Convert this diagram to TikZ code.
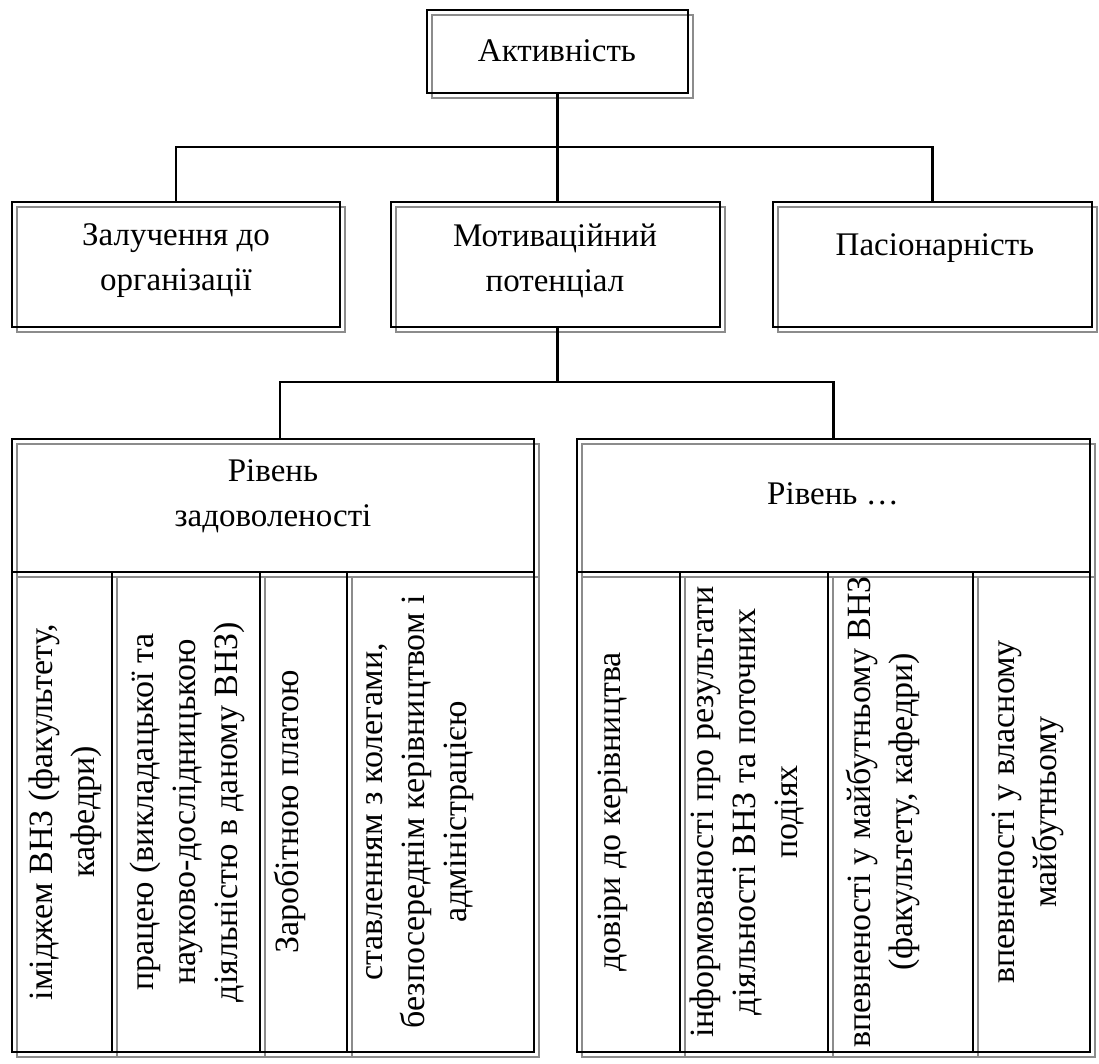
\documentclass[tikz,border=0pt]{standalone}
\usepackage{fontspec}
\setmainfont{Liberation Serif}
\usetikzlibrary{fit}
\tikzset{
  boxn/.style={draw=black, line width=1.3pt, inner sep=0pt, outer sep=0pt},
  shadeline/.style={draw=black!45, line width=0.6pt},
  conn/.style={draw=black, line width=1.1pt},
  txt/.style={font=\fontsize{16.5}{22.5}\selectfont, align=center, inner sep=0pt},
  vtxt/.style={font=\fontsize{17}{21}\selectfont, align=center, inner sep=0pt, rotate=90},
}
\newcommand\dbox[5]{%
  \draw[shadeline] (#2+5,#3+5) rectangle (#4+5,#5+5);
  \coordinate (#1-a) at (#2,#3);
  \coordinate (#1-b) at (#4,#5);
  \node[boxn, fit=(#1-a)(#1-b)] (#1) {};
}
\begin{document}
\begin{tikzpicture}[x=0.5pt,y=-0.5pt]
\useasboundingbox (0,0) rectangle (1099,1064);
% top
\dbox{act}{427}{10}{688}{93}
% row 2
\dbox{zal}{12}{202}{340}{327}
\dbox{mot}{391}{202}{720}{327}
\dbox{pas}{773}{202}{1092}{327}
% level blocks
\dbox{lv1}{12}{439}{534}{572}
\dbox{c1}{12}{572}{112}{1052}
\dbox{c2}{112}{572}{260}{1052}
\dbox{c3}{260}{572}{347}{1052}
\dbox{c4}{347}{572}{534}{1052}
\dbox{lv2}{577}{439}{1090}{572}
\dbox{c5}{577}{572}{680}{1052}
\dbox{c6}{680}{572}{828}{1052}
\dbox{c7}{828}{572}{973}{1052}
\dbox{c8}{973}{572}{1090}{1052}
% connectors
\coordinate (bus) at (557.5,147);
\coordinate (lbus) at (557.5,382);
\coordinate (ldrop) at (280,439);
\draw[conn] (act.south) -- (act.south |- mot.north);
\draw[conn] (zal.north) |- (bus) -| (pas.north);
\draw[conn] (lbus |- mot.south) -- (lbus);
\draw[conn] (ldrop) |- (lbus) -| (lv2.north);
% texts
\node[txt] (tact) at (557,51) {Активність};
\node[txt] (tzal) at (176,261) {Залучення до\\організації};
\node[txt] (tmot) at (555,261) {Мотиваційний\\потенціал};
\node[txt] (tpas) at (935,248) {Пасіонарність};
\node[txt] (tlv1) at (273,496) {Рівень\\задоволеності};
\node[txt] (tlv2) at (833,494) {Рівень …};
\node[vtxt] (tc1) at (65,812) {іміджем ВНЗ (факультету,\\кафедри)};
\node[vtxt] (tc2) at (187,812) {працею (викладацької та\\науково-дослідницькою\\діяльністю в даному ВНЗ)};
\node[vtxt] (tc3) at (290,812) {Заробітною платою};
\node[vtxt] (tc4) at (420,812) {ставленням з колегами,\\безпосереднім керівництвом і\\адміністрацією};
\node[vtxt] (tc5) at (613,812) {довіри до керівництва};
\node[vtxt] (tc6) at (747,812) {інформованості про результати\\діяльності ВНЗ та поточних\\подіях};
\node[vtxt] (tc7) at (883,812) {впевненості у майбутньому ВНЗ\\(факультету, кафедри)};
\node[vtxt] (tc8) at (1028,812) {впевненості у власному\\майбутньому};
\end{tikzpicture}
\end{document}
